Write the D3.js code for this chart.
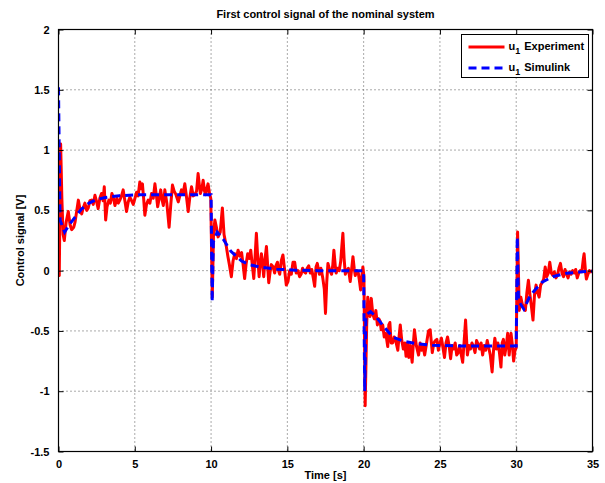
<!DOCTYPE html>
<html>
<head>
<meta charset="utf-8">
<script src="https://d3js.org/d3.v7.min.js"></script>
<style>
  body { margin: 0; background: #fff; }
  svg text { font-family: "Liberation Sans", Arial, Helvetica, sans-serif; font-weight: bold; font-size: 11px; fill: #000; }
</style>
</head>
<body>
<div id="chart"></div>

<script>

// tick values
var xTicks = [0, 5, 10, 15, 20, 25, 30, 35];
var yTicks = [-1.5, -1, -0.5, 0, 0.5, 1, 1.5, 2];

// u1 measured on the rig: [time s, volts]
var experiment = [
  [0.00,-0.03],[0.05,-0.04],[0.14,1.05],[0.22,0.60],[0.30,0.30],[0.38,0.25],[0.50,0.40],[0.64,0.49],[0.76,0.38],[0.86,0.34],
  [1.00,0.36],[1.08,0.40],[1.20,0.50],[1.30,0.585],[1.42,0.50],[1.52,0.47],[1.62,0.52],[1.73,0.56],[1.85,0.50],[1.95,0.52],
  [2.06,0.58],[2.17,0.585],[2.28,0.55],[2.39,0.625],[2.50,0.57],[2.60,0.515],[2.71,0.60],[2.82,0.64],[2.92,0.58],
  [3.00,0.695],[3.09,0.42],[3.18,0.53],[3.30,0.585],[3.40,0.56],[3.50,0.64],[3.60,0.60],[3.70,0.54],[3.82,0.60],[3.92,0.56],
  [4.02,0.585],[4.13,0.62],[4.24,0.67],[4.35,0.58],[4.46,0.49],[4.57,0.57],[4.68,0.61],[4.79,0.58],[4.90,0.55],
  [5.01,0.60],[5.12,0.65],[5.22,0.62],[5.33,0.735],[5.42,0.68],[5.50,0.72],[5.58,0.60],[5.66,0.46],[5.77,0.55],[5.88,0.585],[5.99,0.56],
  [6.10,0.64],[6.21,0.60],[6.32,0.72],[6.42,0.62],[6.50,0.53],[6.60,0.60],[6.70,0.67],[6.80,0.58],[6.87,0.54],[6.97,0.67],
  [7.10,0.56],[7.25,0.36],[7.36,0.55],[7.47,0.71],[7.58,0.66],[7.70,0.63],[7.85,0.57],[7.95,0.62],
  [8.06,0.67],[8.17,0.64],[8.28,0.72],[8.40,0.60],[8.50,0.49],[8.60,0.60],[8.72,0.695],[8.83,0.62],[8.94,0.63],
  [9.05,0.66],[9.15,0.805],[9.24,0.70],[9.30,0.64],[9.40,0.68],[9.48,0.75],[9.57,0.66],[9.65,0.63],[9.72,0.68],[9.80,0.72],[9.90,0.64],[9.98,0.60],
  [10.08,-0.22],[10.16,0.30],[10.25,0.42],[10.35,0.36],[10.46,0.28],[10.60,0.32],[10.74,0.52],[10.85,0.30],
  [11.00,0.20],[11.10,0.12],[11.20,0.05],[11.33,-0.05],[11.44,0.08],[11.55,0.14],[11.66,0.10],[11.77,0.17],[11.88,0.12],
  [12.00,0.15],[12.10,0.05],[12.20,-0.065],[12.30,0.06],[12.40,0.14],[12.50,0.10],[12.60,0.17],[12.70,0.05],[12.80,-0.065],[12.90,0.15],[12.97,0.31],
  [13.06,0.10],[13.15,-0.05],[13.22,0.06],[13.30,0.14],[13.38,0.05],[13.45,-0.05],[13.54,0.10],[13.63,0.20],[13.78,-0.10],[13.88,0.00],[13.95,0.05],
  [14.07,0.03],[14.17,-0.02],[14.25,0.04],[14.35,0.07],[14.42,0.00],[14.50,-0.03],[14.60,0.08],[14.71,0.13],[14.80,0.03],[14.93,-0.12],
  [15.04,-0.09],[15.15,0.00],[15.26,-0.03],[15.37,0.07],[15.48,0.07],[15.58,-0.02],[15.70,0.00],[15.80,-0.05],[15.90,-0.03],
  [16.00,0.02],[16.10,-0.01],[16.20,-0.02],[16.30,0.02],[16.40,0.04],[16.50,-0.02],[16.60,0.01],[16.70,-0.06],[16.79,-0.13],[16.88,0.03],[16.96,0.06],
  [17.10,-0.03],[17.20,0.02],[17.32,-0.06],[17.42,-0.15],[17.50,-0.355],[17.58,-0.10],[17.66,0.06],[17.78,0.00],[17.90,-0.03],[17.98,0.05],
  [18.05,0.17],[18.14,0.04],[18.20,-0.02],[18.30,0.02],[18.40,0.00],[18.50,0.08],[18.57,0.20],[18.64,0.31],[18.72,0.10],[18.80,-0.03],[18.90,0.00],
  [19.00,0.02],[19.12,-0.09],[19.22,0.02],[19.30,0.115],[19.38,0.02],[19.45,-0.04],[19.55,0.00],[19.65,-0.02],[19.72,-0.08],[19.80,-0.16],[19.88,-0.05],[19.95,0.03],
  [20.02,-0.05],[20.10,-1.12],[20.20,-0.45],[20.27,-0.22],[20.35,-0.35],[20.42,-0.38],[20.50,-0.23],[20.60,-0.36],[20.70,-0.40],[20.80,-0.33],[20.90,-0.45],
  [21.00,-0.40],[21.08,-0.42],[21.15,-0.49],[21.25,-0.45],[21.35,-0.55],[21.45,-0.52],[21.58,-0.63],[21.65,-0.45],[21.72,-0.43],[21.80,-0.60],[21.90,-0.60],
  [22.00,-0.55],[22.10,-0.58],[22.24,-0.66],[22.32,-0.55],[22.40,-0.45],[22.50,-0.58],[22.60,-0.65],[22.70,-0.60],[22.78,-0.71],[22.88,-0.60],[22.96,-0.72],
  [23.05,-0.62],[23.18,-0.76],[23.26,-0.60],[23.33,-0.49],[23.45,-0.62],[23.60,-0.70],[23.70,-0.60],[23.80,-0.66],[23.90,-0.63],
  [24.00,-0.70],[24.10,-0.62],[24.25,-0.50],[24.36,-0.49],[24.50,-0.68],[24.60,-0.60],[24.70,-0.58],[24.80,-0.57],[24.90,-0.66],
  [25.00,-0.60],[25.10,-0.56],[25.20,-0.64],[25.30,-0.72],[25.40,-0.60],[25.50,-0.55],[25.60,-0.62],[25.70,-0.73],[25.80,-0.62],[25.90,-0.65],
  [26.00,-0.60],[26.10,-0.70],[26.20,-0.68],[26.30,-0.62],[26.40,-0.70],[26.49,-0.76],[26.58,-0.60],[26.68,-0.41],[26.80,-0.70],[26.90,-0.62],
  [27.00,-0.65],[27.10,-0.60],[27.20,-0.63],[27.30,-0.68],[27.40,-0.58],[27.50,-0.61],[27.60,-0.65],[27.70,-0.60],[27.80,-0.70],[27.90,-0.62],
  [28.00,-0.66],[28.10,-0.58],[28.20,-0.64],[28.30,-0.70],[28.42,-0.84],[28.52,-0.65],[28.60,-0.56],[28.70,-0.65],[28.80,-0.60],[28.90,-0.68],
  [29.00,-0.80],[29.08,-0.60],[29.16,-0.57],[29.25,-0.70],[29.35,-0.62],[29.44,-0.52],[29.54,-0.70],[29.66,-0.52],[29.75,-0.62],[29.83,-0.75],[29.92,-0.66],
  [30.00,-0.64],[30.09,0.32],[30.20,-0.33],[30.30,-0.22],[30.40,-0.28],[30.50,-0.30],[30.60,-0.33],[30.70,-0.18],[30.80,-0.08],[30.90,-0.20],
  [31.00,-0.30],[31.10,-0.41],[31.20,-0.20],[31.30,-0.12],[31.40,-0.18],[31.50,-0.22],[31.60,-0.12],[31.70,-0.10],[31.80,-0.07],[31.90,0.03],
  [32.00,-0.05],[32.10,-0.02],[32.20,0.07],[32.30,-0.02],[32.40,-0.04],[32.50,-0.01],[32.60,-0.06],[32.70,-0.04],[32.80,0.02],[32.90,0.06],
  [33.00,-0.02],[33.10,-0.05],[33.20,0.01],[33.30,-0.03],[33.40,-0.06],[33.50,-0.01],[33.60,-0.03],[33.70,0.00],[33.80,-0.02],[33.90,0.01],
  [34.00,-0.06],[34.10,-0.02],[34.20,0.00],[34.30,-0.01],[34.40,0.10],[34.45,0.14],[34.55,-0.02],[34.60,-0.07],[34.70,-0.03],[34.80,0.00],[34.90,-0.01],[35.00,0.00]
];

// u1 from the Simulink model: [time s, volts]
var simulink = [
  [0.00,1.52],[0.10,0.42],[0.40,0.32],[0.70,0.38],[1.00,0.43],[1.50,0.51],[2.00,0.56],[2.50,0.59],[3.00,0.605],[3.50,0.615],
  [4.00,0.622],[5.00,0.628],[6.00,0.63],[10.00,0.63],[10.07,-0.26],[10.15,0.24],[10.40,0.32],[10.80,0.26],[11.30,0.16],
  [12.00,0.08],[12.50,0.05],[13.20,0.03],[14.30,0.012],[15.50,0.004],[17.00,0.00],[20.00,0.00],[20.07,-1.00],[20.15,-0.37],
  [20.45,-0.34],[20.80,-0.38],[21.30,-0.46],[21.90,-0.55],[22.60,-0.585],[23.40,-0.605],[24.50,-0.618],[26.00,-0.624],
  [30.00,-0.625],[30.07,0.28],[30.15,-0.25],[30.50,-0.32],[30.90,-0.21],[31.30,-0.15],[31.70,-0.095],[32.40,-0.05],
  [33.30,-0.022],[34.30,-0.01],[35.00,-0.005]
];

var margin = {top: 29.5, right: 12.5, bottom: 31.5, left: 58.5},
    width = 605 - margin.left - margin.right,
    height = 483 - margin.top - margin.bottom;

var svg = d3.select("#chart")
  .append("svg")
    .attr("width", 605)
    .attr("height", 483);

var g = svg.append("g")
    .attr("transform", "translate(" + margin.left + "," + margin.top + ")");

var x = d3.scaleLinear().domain([0, 35]).range([0, width]);
var y = d3.scaleLinear().domain([-1.5, 2]).range([height, 0]);

// dotted grid
g.append("g")
  .selectAll("line")
  .data(xTicks.slice(1, -1))
  .enter().append("line")
    .attr("x1", function(d) { return x(d); })
    .attr("x2", function(d) { return x(d); })
    .attr("y1", 0)
    .attr("y2", height)
    .attr("stroke", "#555")
    .attr("stroke-dasharray", "1,3");

g.append("g")
  .selectAll("line")
  .data(yTicks.slice(1, -1))
  .enter().append("line")
    .attr("y1", function(d) { return y(d); })
    .attr("y2", function(d) { return y(d); })
    .attr("x1", 0)
    .attr("x2", width)
    .attr("stroke", "#555")
    .attr("stroke-dasharray", "1,3");

// the two signals
g.append("clipPath").attr("id", "clip")
  .append("rect").attr("width", width).attr("height", height);

var line = d3.line()
  .x(function(d) { return x(d[0]); })
  .y(function(d) { return y(d[1]); });

g.append("path")
  .datum(experiment)
  .attr("clip-path", "url(#clip)")
  .attr("fill", "none")
  .attr("stroke", "#ff0000")
  .attr("stroke-width", 3)
  .attr("stroke-linejoin", "round")
  .attr("d", line);

g.append("path")
  .datum(simulink)
  .attr("clip-path", "url(#clip)")
  .attr("fill", "none")
  .attr("stroke", "#0000ff")
  .attr("stroke-width", 3)
  .attr("stroke-dasharray", "8,5")
  .attr("d", line);

// axes, matlab style: ticks inside on all four sides
function styleAxis(sel) {
  sel.select(".domain").remove();
  sel.selectAll(".tick line").attr("stroke", "#000");
  sel.selectAll(".tick text").style("font-size", "11px").style("font-weight", "bold");
}

g.append("g")
  .attr("transform", "translate(0," + height + ")")
  .call(d3.axisBottom(x).tickValues(xTicks).tickFormat(d3.format("d")).tickSizeInner(-5).tickPadding(9))
  .call(styleAxis);

g.append("g")
  .call(d3.axisTop(x).tickValues(xTicks).tickFormat("").tickSizeInner(-5))
  .call(styleAxis);

g.append("g")
  .call(d3.axisLeft(y).tickValues(yTicks).tickFormat(function(d) { return d; }).tickSizeInner(-5).tickPadding(9))
  .call(styleAxis);

g.append("g")
  .attr("transform", "translate(" + width + ",0)")
  .call(d3.axisRight(y).tickValues(yTicks).tickFormat("").tickSizeInner(-5))
  .call(styleAxis);

g.append("rect")
  .attr("width", width)
  .attr("height", height)
  .attr("fill", "none")
  .attr("stroke", "#000")
  .attr("stroke-width", 1.2);

// title and axis labels
svg.append("text")
  .attr("x", margin.left + width / 2)
  .attr("y", 18)
  .style("text-anchor", "middle")
  .text("First control signal of the nominal system");

svg.append("text")
  .attr("x", margin.left + width / 2)
  .attr("y", 479)
  .style("text-anchor", "middle")
  .text("Time [s]");

svg.append("text")
  .attr("transform", "translate(24," + (margin.top + height / 2) + ") rotate(-90)")
  .style("text-anchor", "middle")
  .text("Control signal [V]");

// legend
var legend = svg.append("g").attr("transform", "translate(461.5,34.5)");
legend.append("rect")
  .attr("width", 127)
  .attr("height", 43)
  .attr("fill", "#fff")
  .attr("stroke", "#000");

var entries = [
  {name: "Experiment", color: "#ff0000", dash: null},
  {name: "Simulink", color: "#0000ff", dash: "8,5"}
];

entries.forEach(function(e, i) {
  var yy = 12.5 + i * 21;
  legend.append("line")
    .attr("x1", 7).attr("x2", 43)
    .attr("y1", yy).attr("y2", yy)
    .attr("stroke", e.color)
    .attr("stroke-width", 3)
    .attr("stroke-dasharray", e.dash);
  var t = legend.append("text")
    .attr("x", 47)
    .attr("y", yy + 3);
  t.append("tspan").text("u");
  t.append("tspan").attr("dy", 4).style("font-size", "9px").text("1");
  t.append("tspan").attr("dy", -4).attr("dx", 4).text(e.name);
});

</script>
</body>
</html>
